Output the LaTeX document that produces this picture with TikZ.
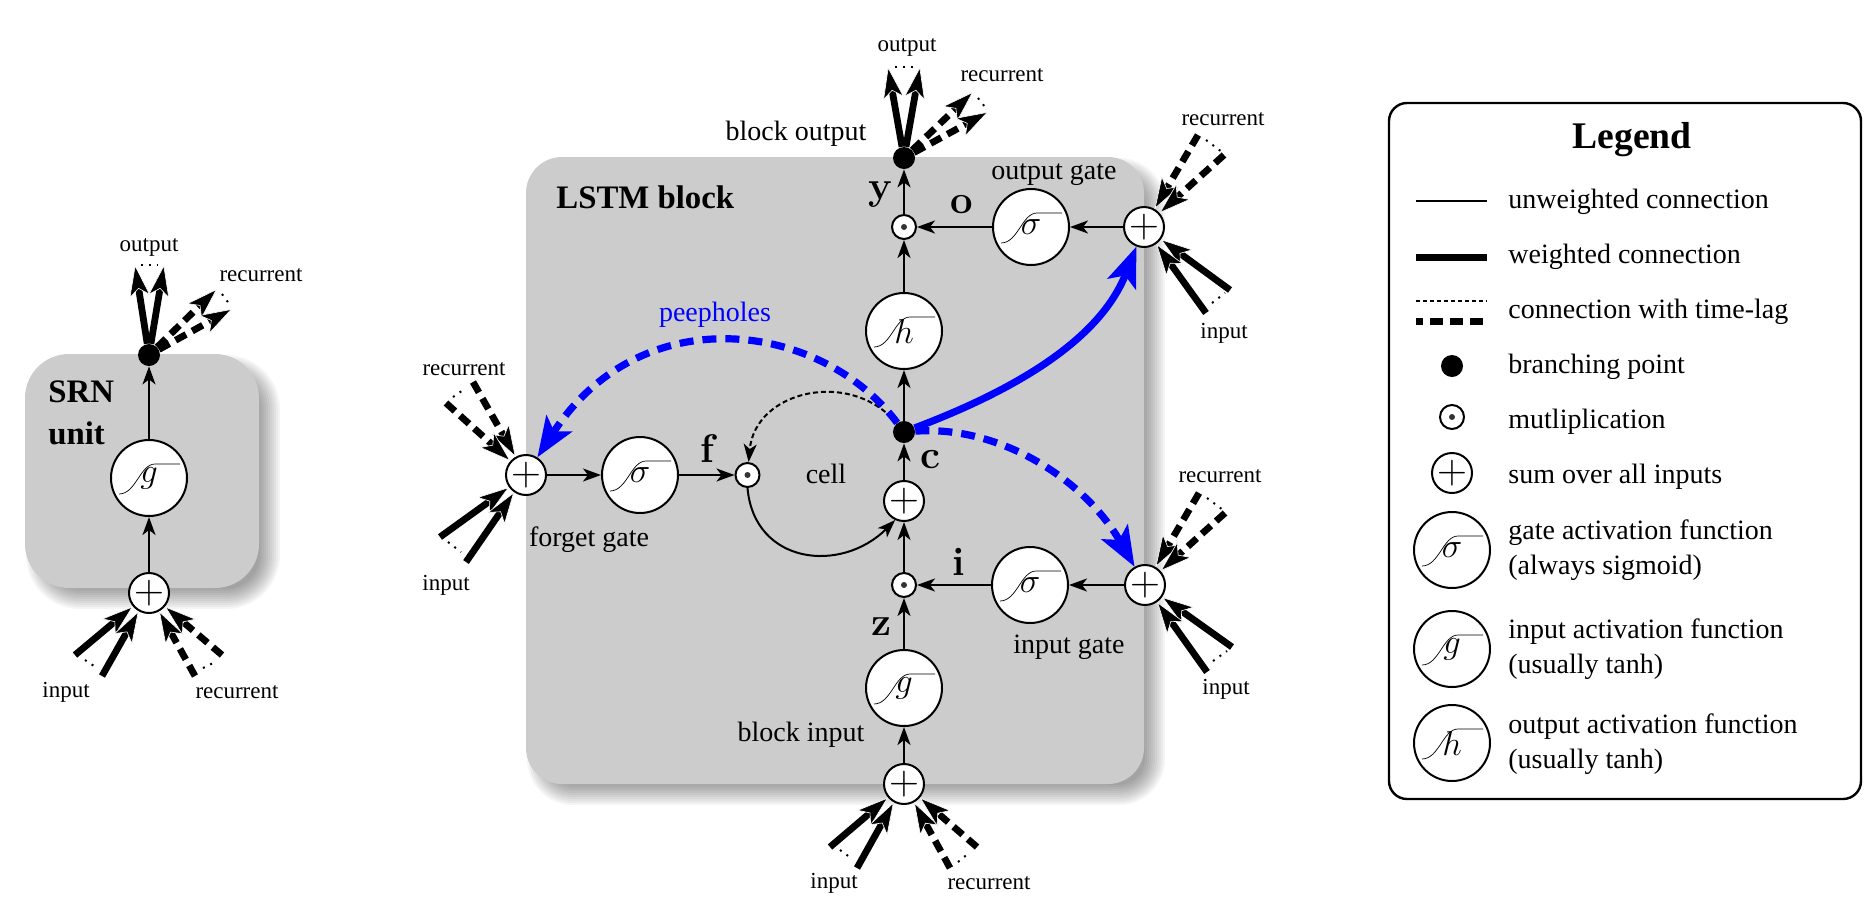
\documentclass[tikz,border=0pt]{standalone}
\usepackage{fontspec}
\setmainfont{Liberation Serif}
\usetikzlibrary{arrows.meta}
\newcommand{\funcnode}[3]{
 \node[funcbox] (#1) at (#2) {$#3$};
 \draw[curveline] ([shift={(-30,16)}]#1.center) .. controls ([shift={(-13,16)}]#1.center) and ([shift={(-9,-14)}]#1.center) .. ([shift={(6,-14)}]#1.center) -- ([shift={(31,-14)}]#1.center);
}
\newcommand{\softbox}[5]{
 \foreach \s in {-10,-8,...,10}
  \fill[black, opacity=.04, rounded corners={(#5+\s)*.5pt}] (#1+11-\s,#2+11-\s) rectangle (#3+11+\s,#4+11+\s);
 \fill[boxgray, rounded corners={#5*.5pt}] (#1,#2) rectangle (#3,#4);
}
\begin{document}
\begin{tikzpicture}[x=.5pt, y=-.5pt,
  boxgray/.style={fill=black!20},
  sumbox/.style={draw, circle, fill=white, line width=1pt, minimum size=20pt, inner sep=0pt, font=\fontsize{20}{20}\selectfont},
  multbox/.style={draw, circle, fill=white, line width=1pt, minimum size=12pt, inner sep=0pt, path picture={\fill[black!80] (path picture bounding box.center) circle (1.5pt);}},
  branchbox/.style={circle, fill=black, minimum size=11pt, inner sep=0pt},
  funcbox/.style={draw, circle, fill=white, line width=1pt, minimum size=38pt, inner sep=0pt, font=\fontsize{17}{17}\selectfont},
  curveline/.style={line width=.35pt},
  plain/.style={line width=1pt, -{Stealth[length=9pt, width=6.5pt, inset=2.5pt]}},
  weighted/.style={line width=3.4pt, -{Stealth[length=16pt, width=10.5pt, inset=4pt, color=white, fill=black, line width=.3pt]}},
  lagged/.style={weighted, dash pattern=on 6pt off 3.5pt},
  ellipsis/.style={line width=1pt, dash pattern=on 1pt off 3pt},
  bluesolid/.style={blue, line width=3.6pt, -{Stealth[length=20pt, width=15pt, inset=4.5pt]}},
  bluedash/.style={bluesolid, dash pattern=on 7pt off 4.5pt},
  lab/.style={inner sep=0pt, font=\fontsize{11.5}{13}\selectfont},
  txt/.style={inner sep=0pt, font=\fontsize{14}{17.5}\selectfont},
  legtxt/.style={txt, anchor=base west, align=left},
  head/.style={inner sep=0pt, font=\fontsize{16.4}{20}\bfseries\selectfont},
  var/.style={inner sep=0pt, font=\fontsize{20}{22}\usefont{TU}{lmr}{bx}{n}}]
\useasboundingbox (0,0) rectangle (1874,911);

\softbox{25}{354}{259}{588}{44}
\softbox{526}{157}{1144}{784}{36}

\node[head, anchor=west] (srnA) at (48,392) {SRN};
\node[head, anchor=west] (srnB) at (48,433) {unit};
\node[branchbox] (srnOut) at (149,355) {};
\funcnode{srnG}{149,478}{g}
\node[sumbox] (srnSum) at (149,593) {$+$};
\draw[plain] (srnSum) -- (srnG);
\draw[plain] (srnG) -- (srnOut);
\coordinate (a1) at (135,265);
\coordinate (a2) at (164,265);
\coordinate (a3) at (217,289);
\coordinate (a4) at (232,309);
\coordinate (a5) at (75,655);
\coordinate (a6) at (102,676);
\coordinate (a7) at (195,676);
\coordinate (a8) at (222,655);
\draw[weighted] (srnOut) -- (a1);
\draw[weighted] (srnOut) -- (a2);
\draw[lagged] (srnOut) -- (a3);
\draw[lagged] (srnOut) -- (a4);
\draw[weighted] (a5) -- (srnSum);
\draw[weighted] (a6) -- (srnSum);
\draw[lagged] (a7) -- (srnSum);
\draw[lagged] (a8) -- (srnSum);
\draw[ellipsis] (141,265) -- (158,265);
\draw[ellipsis] (222,294) -- (230,305);
\draw[ellipsis] (85,660) -- (97,668);
\draw[ellipsis] (203,668) -- (215,662);
\node[lab] (srnL1) at (149,247) {output};
\node[lab] (srnL2) at (261,275) {recurrent};
\node[lab] (srnL3) at (66,692) {input};
\node[lab] (srnL4) at (237,692) {recurrent};

\node[head, anchor=west] (lstmT) at (556,197) {LSTM block};
\node[branchbox] (yOut) at (904,158) {};
\node[multbox] (multO) at (904,227) {};
\funcnode{sigO}{1031,227}{\sigma}
\node[sumbox] (sumO) at (1144,227) {$+$};
\funcnode{funcH}{904,331}{h}
\node[branchbox] (cell) at (904,432) {};
\node[sumbox] (sumC) at (904,501) {$+$};
\node[multbox] (multI) at (904,585) {};
\funcnode{sigI}{1030,585}{\sigma}
\node[sumbox] (sumI) at (1145,585) {$+$};
\funcnode{funcG}{904,688}{g}
\node[sumbox] (sumZ) at (904,784) {$+$};
\node[sumbox] (sumF) at (526,475) {$+$};
\funcnode{sigF}{640,475}{\sigma}
\node[multbox] (multF) at (747.5,475) {};

\draw[plain] (sumZ) -- (funcG);
\draw[plain] (funcG) -- (multI);
\draw[plain] (multI) -- (sumC);
\draw[plain] (sumC) -- (cell);
\draw[plain] (cell) -- (funcH);
\draw[plain] (funcH) -- (multO);
\draw[plain] (multO) -- (yOut);
\draw[plain] (sumO) -- (sigO);
\draw[plain] (sigO) -- (multO);
\draw[plain] (sumI) -- (sigI);
\draw[plain] (sigI) -- (multI);
\draw[plain] (sumF) -- (sigF);
\draw[plain] (sigF) -- (multF);
\draw[plain] (multF.south) to[out=-85, in=-135, looseness=1.3] (sumC.-115);
\draw[plain, dash pattern=on 2.5pt off 1.5pt] (cell) to[out=130, in=85, looseness=1.2] (multF);

\draw[bluesolid] (cell) .. controls (1015,390) and (1100,340) .. (sumO);
\draw[bluedash] (cell) .. controls (1000,425) and (1085,480) .. (sumI);
\draw[bluedash] (cell) .. controls (820,320) and (640,298) .. (sumF);

\foreach \nm/\px/\py/\qx/\qy in {b1/888/67/920/67, b2/973/92/988/112} {
 \coordinate (\nm p) at (\px,\py);
 \coordinate (\nm q) at (\qx,\qy);
}
\draw[weighted] (yOut) -- (b1p);
\draw[weighted] (yOut) -- (b1q);
\draw[lagged] (yOut) -- (b2p);
\draw[lagged] (yOut) -- (b2q);
\draw[ellipsis] (895,67) -- (913,67);
\draw[ellipsis] (978,98) -- (985,107);

\coordinate (c1) at (1198,135);
\coordinate (c2) at (1224,155);
\coordinate (c3) at (1230,290);
\coordinate (c4) at (1206,313);
\draw[lagged] (c1) -- (sumO);
\draw[lagged] (c2) -- (sumO);
\draw[weighted] (c3) -- (sumO);
\draw[weighted] (c4) -- (sumO);
\draw[ellipsis] (1206,140) -- (1222,152);
\draw[ellipsis] (1212,303) -- (1225,293);

\coordinate (d1) at (1199,493);
\coordinate (d2) at (1225,513);
\coordinate (d3) at (1232,647);
\coordinate (d4) at (1207,672);
\draw[lagged] (d1) -- (sumI);
\draw[lagged] (d2) -- (sumI);
\draw[weighted] (d3) -- (sumI);
\draw[weighted] (d4) -- (sumI);
\draw[ellipsis] (1207,498) -- (1223,510);
\draw[ellipsis] (1213,661) -- (1227,651);

\coordinate (e1) at (473,382);
\coordinate (e2) at (446,403);
\coordinate (e3) at (440,537);
\coordinate (e4) at (466,562);
\draw[lagged] (e1) -- (sumF);
\draw[lagged] (e2) -- (sumF);
\draw[weighted] (e3) -- (sumF);
\draw[weighted] (e4) -- (sumF);
\draw[ellipsis] (453,397) -- (466,388);
\draw[ellipsis] (448,542) -- (461,552);

\coordinate (f1) at (830,847);
\coordinate (f2) at (857,868);
\coordinate (f3) at (950,868);
\coordinate (f4) at (977,847);
\draw[weighted] (f1) -- (sumZ);
\draw[weighted] (f2) -- (sumZ);
\draw[lagged] (f3) -- (sumZ);
\draw[lagged] (f4) -- (sumZ);
\draw[ellipsis] (840,850) -- (851,858);
\draw[ellipsis] (958,862) -- (970,852);

\node[lab] (l1) at (907,47) {output};
\node[lab] (l2) at (1002,75) {recurrent};
\node[lab] (l3) at (1223,119) {recurrent};
\node[lab] (l4) at (1224,333) {input};
\node[lab] (l5) at (1220,476) {recurrent};
\node[lab] (l6) at (1226,689) {input};
\node[lab] (l7) at (464,369) {recurrent};
\node[lab] (l8) at (446,585) {input};
\node[lab] (l9) at (834,883) {input};
\node[lab] (l10) at (989,883) {recurrent};
\node[txt] (t1) at (796,134) {block output};
\node[txt] (t2) at (1054,175) {output gate};
\node[txt] (t3) at (589,540) {forget gate};
\node[txt] (t4) at (826,474) {cell};
\node[txt] (t5) at (1069,647) {input gate};
\node[txt] (t6) at (801,735) {block input};
\node[txt, text=blue] (t7) at (715,315) {peepholes};
\node[var] (vy) at (880,195) {y};
\node[var] (vo) at (962,205) {o};
\node[var] (vf) at (707,448) {f};
\node[var] (vc) at (930,460) {c};
\node[var] (vi) at (959,562) {i};
\node[var] (vz) at (881,627) {z};

\draw[line width=1.2pt, rounded corners=9pt] (1389,103) rectangle (1861,799);
\node[inner sep=0pt, font=\fontsize{18.8}{20}\bfseries\selectfont] (legT) at (1632,140) {Legend};
\coordinate (s1a) at (1416,201);
\coordinate (s1b) at (1487,201);
\coordinate (s2a) at (1416,257);
\coordinate (s2b) at (1487,257);
\coordinate (s3a) at (1416,301);
\coordinate (s3b) at (1487,301);
\coordinate (s4a) at (1416,321);
\coordinate (s4b) at (1487,321);
\draw[line width=1pt] (s1a) -- (s1b);
\draw[line width=3.5pt] (s2a) -- (s2b);
\draw[line width=1pt, dash pattern=on 2.2pt off 1.3pt] (s3a) -- (s3b);
\draw[line width=3.5pt, dash pattern=on 6.5pt off 3.5pt, dash phase=3pt] (s4a) -- (s4b);
\node[branchbox] (legB) at (1452,366) {};
\node[multbox] (legM) at (1452,417) {};
\node[sumbox] (legS) at (1452,473) {$+$};
\funcnode{legSig}{1452,550}{\sigma}
\funcnode{legG}{1452,649}{g}
\funcnode{legH}{1452,743}{h}
\node[legtxt] (x1) at (1508,208) {unweighted connection};
\node[legtxt] (x2) at (1508,263) {weighted connection};
\node[legtxt] (x3) at (1508,318) {connection with time-lag};
\node[legtxt] (x4) at (1508,373) {branching point};
\node[legtxt] (x5) at (1508,428) {mutliplication};
\node[legtxt] (x6) at (1508,483) {sum over all inputs};
\node[legtxt] (x7) at (1508,539) {gate activation function};
\node[legtxt] (x7b) at (1508,574) {(always sigmoid)};
\node[legtxt] (x8) at (1508,638) {input activation function};
\node[legtxt] (x8b) at (1508,673) {(usually tanh)};
\node[legtxt] (x9) at (1508,733) {output activation function};
\node[legtxt] (x9b) at (1508,768) {(usually tanh)};
\end{tikzpicture}
\end{document}
